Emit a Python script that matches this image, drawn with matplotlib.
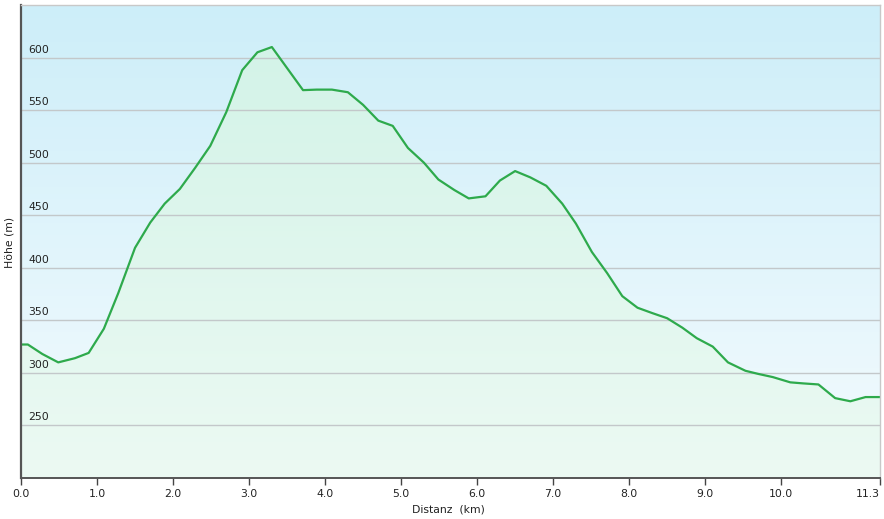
import numpy as np
import matplotlib
matplotlib.use("Agg")
import matplotlib.pyplot as plt
from matplotlib.colors import LinearSegmentedColormap
import matplotlib.transforms as mtransforms

# Data (distance in km, elevation in m)
distance_km = [0.0, 0.09, 0.28, 0.49, 0.71, 0.89, 1.09, 1.28, 1.50, 1.70, 1.89,
               2.09, 2.29, 2.49, 2.70, 2.91, 3.11, 3.30, 3.50, 3.71, 3.89, 4.09,
               4.30, 4.50, 4.70, 4.89, 5.09, 5.30, 5.49, 5.70, 5.89, 6.11, 6.30,
               6.50, 6.70, 6.91, 7.12, 7.30, 7.51, 7.71, 7.91, 8.11, 8.30, 8.50,
               8.70, 8.89, 9.10, 9.30, 9.53, 9.70, 9.89, 10.12, 10.29, 10.49,
               10.71, 10.91, 11.11, 11.30]
elevation_m = [327, 327, 318, 310, 314, 319, 342, 376, 419, 443, 461,
               475, 495, 516, 548, 588, 605, 610, 590, 569, 569.5, 569.5,
               567, 555, 540, 535, 514, 500, 484, 474, 466, 468, 483,
               492, 486, 478, 461, 442, 415, 395, 373, 362, 357, 352,
               343, 333, 325, 310, 302, 299, 296, 291, 290, 289,
               276, 273, 277, 277]

x_ticks = [0.0, 1.0, 2.0, 3.0, 4.0, 5.0, 6.0, 7.0, 8.0, 9.0, 10.0, 11.3]
x_tick_labels = ["0.0", "1.0", "2.0", "3.0", "4.0", "5.0", "6.0", "7.0", "8.0", "9.0", "10.0", "11.3"]
y_ticks = [250, 300, 350, 400, 450, 500, 550, 600]
y_tick_labels = ["250", "300", "350", "400", "450", "500", "550", "600"]

W, H = 884, 519
fig = plt.figure(figsize=(W / 100, H / 100), dpi=100)
fig.patch.set_facecolor("white")
ax = fig.add_axes([21 / W, (H - 478) / H, (880 - 21) / W, (478 - 5) / H])

xmin, xmax = 0.0, 11.3
ymin, ymax = 200, 650
ax.set_xlim(xmin, xmax)
ax.set_ylim(ymin, ymax)

# background gradient
bg_cmap = LinearSegmentedColormap.from_list("bg", ["#f4fbfe", "#cdeef9"])
grad = np.linspace(0, 1, 256).reshape(-1, 1)
ax.imshow(grad, extent=[xmin, xmax, ymin, ymax], origin="lower", aspect="auto",
          cmap=bg_cmap, zorder=0, interpolation="bilinear")

# fill under curve with gradient
fill_cmap = LinearSegmentedColormap.from_list("fill", ["#ecfaf3", "#d3f3e8"])
poly = ax.fill_between(distance_km, elevation_m, ymin, facecolor="none", edgecolor="none")
img = ax.imshow(grad, extent=[xmin, xmax, ymin, 620], origin="lower", aspect="auto",
                cmap=fill_cmap, zorder=1, interpolation="bilinear")
path = poly.get_paths()[0]
img.set_clip_path(path, transform=ax.transData)

# grid
for yv in y_ticks:
    ax.axhline(yv, color="#c3c8ca", lw=1.0, zorder=2)

# line
ax.plot(distance_km, elevation_m, color="#2eaa4c", lw=1.6, zorder=3, solid_joinstyle="round")

# y tick labels inside the plot
ax.set_yticks([])
trans = mtransforms.blended_transform_factory(ax.transAxes, ax.transData)
off = mtransforms.offset_copy(trans, fig=fig, x=7, y=3, units="dots")
for yv, lab in zip(y_ticks, y_tick_labels):
    ax.text(0, yv, lab, transform=off, ha="left", va="bottom", fontsize=7.8,
            color="#222222", zorder=4)

# x ticks
ax.set_xticks(x_ticks)
ax.set_xticklabels(x_tick_labels, fontsize=7.8, color="#222222")
ax.get_xticklabels()[-1].set_horizontalalignment("right")
ax.tick_params(axis="x", direction="out", length=5, width=1, color="#444444", pad=3)

# spines
ax.spines["left"].set_color("#555555")
ax.spines["left"].set_linewidth(1.6)
ax.spines["bottom"].set_color("#555555")
ax.spines["bottom"].set_linewidth(1.4)
ax.spines["top"].set_color("#c8c8c8")
ax.spines["top"].set_linewidth(1.0)
ax.spines["right"].set_color("#c8c8c8")
ax.spines["right"].set_linewidth(1.0)
for s in ax.spines.values():
    s.set_zorder(5)

fig.text(10 / W, 1 - 242 / H, "Höhe (m)", rotation=90, ha="center", va="center",
         fontsize=7.8, color="#222222")
fig.text(448 / W, 1 - 510 / H, "Distanz  (km)", ha="center", va="center",
         fontsize=7.8, color="#222222")

fig.savefig("out.png", dpi=100, facecolor="white")
